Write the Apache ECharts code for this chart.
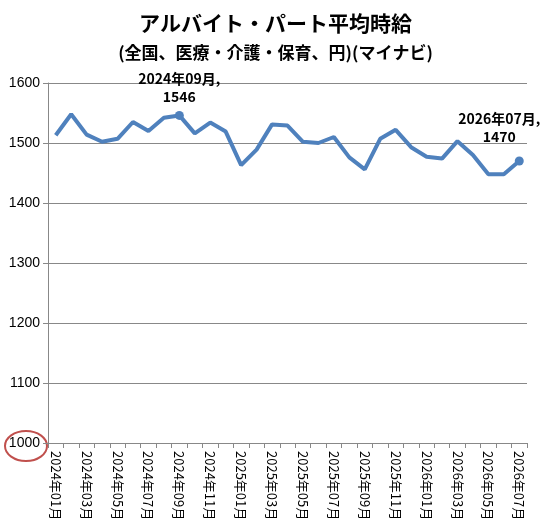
<!DOCTYPE html>
<html>
<head>
<meta charset="utf-8">
<script src="https://cdn.jsdelivr.net/npm/echarts@6/dist/echarts.min.js"></script>
<style>
  html, body { margin: 0; padding: 0; background: #fff; }
  #chart { width: 551px; height: 531px; }
</style>
</head>
<body>
<div id="chart"></div>
<script>
const months = [];
for (let y = 2024; y <= 2026; y++) {
  for (let m = 1; m <= 12; m++) {
    if (y === 2026 && m > 7) break;
    months.push(y + "年" + String(m).padStart(2, "0") + "月");
  }
}

const wages = [
  1513, 1548, 1514, 1502, 1507, 1535, 1520, 1542, 1546, 1516, 1534, 1519,
  1463, 1489, 1531, 1529, 1502, 1500, 1510, 1476, 1456, 1507, 1522, 1493,
  1477, 1474, 1503, 1480, 1448, 1448, 1470,
];

const markIdx = [8, 30];

const chart = echarts.init(document.getElementById("chart"));

const option = {
  animation: false,
  title: {
    text: "アルバイト・パート平均時給",
    subtext: "(全国、医療・介護・保育、円)(マイナビ)",
    left: "center",
    top: 8,
    itemGap: 10,
    textStyle: { fontSize: 21, fontWeight: "bold", color: "#000", fontFamily: "Noto Sans CJK JP" },
    subtextStyle: { fontSize: 17, fontWeight: "bold", color: "#000", fontFamily: "Noto Sans CJK JP" },
  },
  grid: { left: 48, right: 24, top: 83, bottom: 88 },
  xAxis: {
    type: "category",
    data: months,
    boundaryGap: true,
    axisLine: { lineStyle: { color: "#888" } },
    axisTick: { show: true, interval: 0, lineStyle: { color: "#888" } },
    axisLabel: {
      interval: 1,
      rotate: -90,
      color: "#000",
      fontSize: 13,
      fontFamily: "Noto Sans CJK JP",
    },
  },
  yAxis: {
    type: "value",
    min: 1000,
    max: 1600,
    interval: 100,
    axisLine: { show: true, lineStyle: { color: "#888" } },
    axisTick: { show: true, lineStyle: { color: "#888" } },
    splitLine: { lineStyle: { color: "#888" } },
    axisLabel: { color: "#000", fontSize: 14, fontFamily: "Liberation Sans", formatter: (v) => String(v) },
  },
  series: [
    {
      type: "line",
      data: wages.map((v, i) =>
        markIdx.includes(i)
          ? {
              value: v,
              symbol: "circle",
              symbolSize: 9,
              label: {
                show: true,
                position: "top",
                formatter: (p) => p.name + ",\n" + p.value,
                fontWeight: "bold",
                fontSize: 14,
                color: "#000",
                lineHeight: 18,
                fontFamily: "Noto Sans CJK JP",
                offset: i === 30 ? [-20, -6] : [0, 0],
              },
            }
          : v
      ),
      symbol: "none",
      showSymbol: true,
      lineStyle: { color: "#4f81bd", width: 4 },
      itemStyle: { color: "#4f81bd" },
    },
  ],
  graphic: [
    {
      type: "ellipse",
      shape: { cx: 26, cy: 446, rx: 21, ry: 15 },
      style: { fill: "none", stroke: "#c0504d", lineWidth: 2 },
    },
  ],
};

chart.setOption(option);
</script>
</body>
</html>
